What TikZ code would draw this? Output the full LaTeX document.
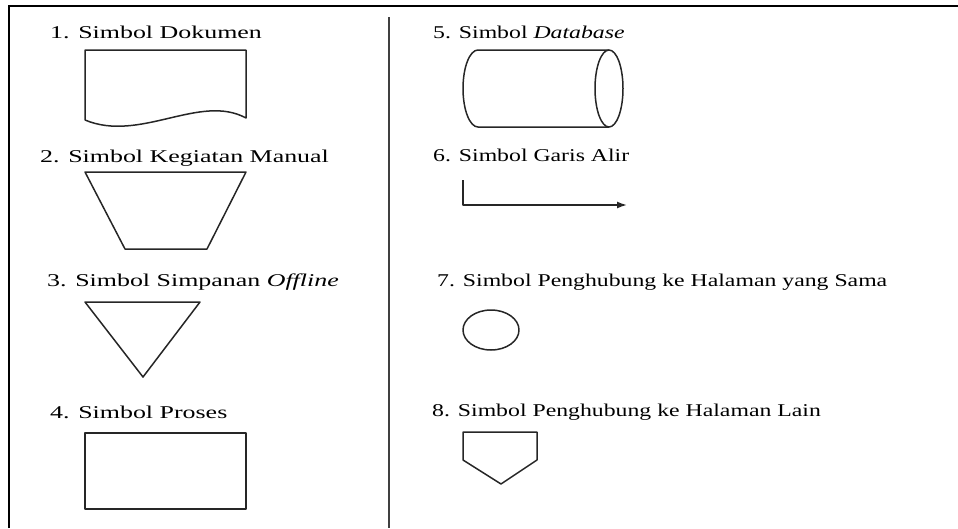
\documentclass[tikz,border=0pt]{standalone}
\usepackage{fontspec}
\setmainfont{Liberation Serif}[FakeStretch=1.44]
\newfontfamily\rightcolfont{Liberation Serif}[FakeStretch=1.32]
\usetikzlibrary{arrows.meta, positioning}

\begin{document}
\begin{tikzpicture}[x=1pt, y=-1pt,
      every node/.style={font=\fontsize{18}{21}\selectfont, anchor=west, inner sep=0pt, text=black},
      rlbl/.style={font=\rightcolfont\fontsize{18}{21}\selectfont},
      sym/.style={draw=black!85, line width=1.5pt, line join=round},
      frame/.style={draw=black, line width=2pt},
      arr/.style={-{Latex[length=10pt, width=7pt]}, sym}
    ]
    \useasboundingbox (0,0) rectangle (958,528);

    % frame and divider
    \draw[frame] (9,528) -- (9,5.5) -- (958,5.5);
    \draw[frame, draw=black!75, line width=1.6pt] (389,17) -- (389,528);

    % left column
    \node (lbl1) at (50,32)  {1. Simbol Dokumen};
    \node (lbl2) at (40,158) {2. Simbol Kegiatan Manual};
    \node (lbl3) at (47,282) {3. Simbol Simpanan \emph{Offline}};
    \node (lbl4) at (50,412) {4. Simbol Proses};

    \draw[sym] (85,120) -- (85,50) -- (246,50) -- (246,118)
      .. controls (200,93) and (140,143) .. (85,120);
    \draw[sym] (85,172) -- (246,172) -- (207,249) -- (125,249) -- cycle;
    \draw[sym] (85,302) -- (200,302) -- (143,377) -- cycle;
    \draw[sym] (85,433) rectangle (246,509);

    % right column
    \node[rlbl] (lbl5) at (433,32)  {5. Simbol \emph{Database}};
    \node[rlbl] (lbl6) at (433,155) {6. Simbol Garis Alir};
    \node[rlbl] (lbl7) at (437,282) {7. Simbol Penghubung ke Halaman yang Sama};
    \node[rlbl] (lbl8) at (432,412) {8. Simbol Penghubung ke Halaman Lain};

    \draw[sym] (609,50) -- (478,50)
      arc[start angle=270, end angle=90, x radius=15, y radius=38.5] -- (609,127);
    \draw[sym] (609,88.5) ellipse [x radius=14, y radius=38.5];

    \coordinate (flowA) at (463,180);
    \coordinate (flowB) at (627,205);
    \draw[arr] (flowA) |- (flowB);

    \draw[sym] (491,330) ellipse [x radius=28, y radius=20];
    \draw[sym] (463,432) -- (537,432) -- (537,460) -- (501,484) -- (463,460) -- cycle;
  \end{tikzpicture}
\end{document}
